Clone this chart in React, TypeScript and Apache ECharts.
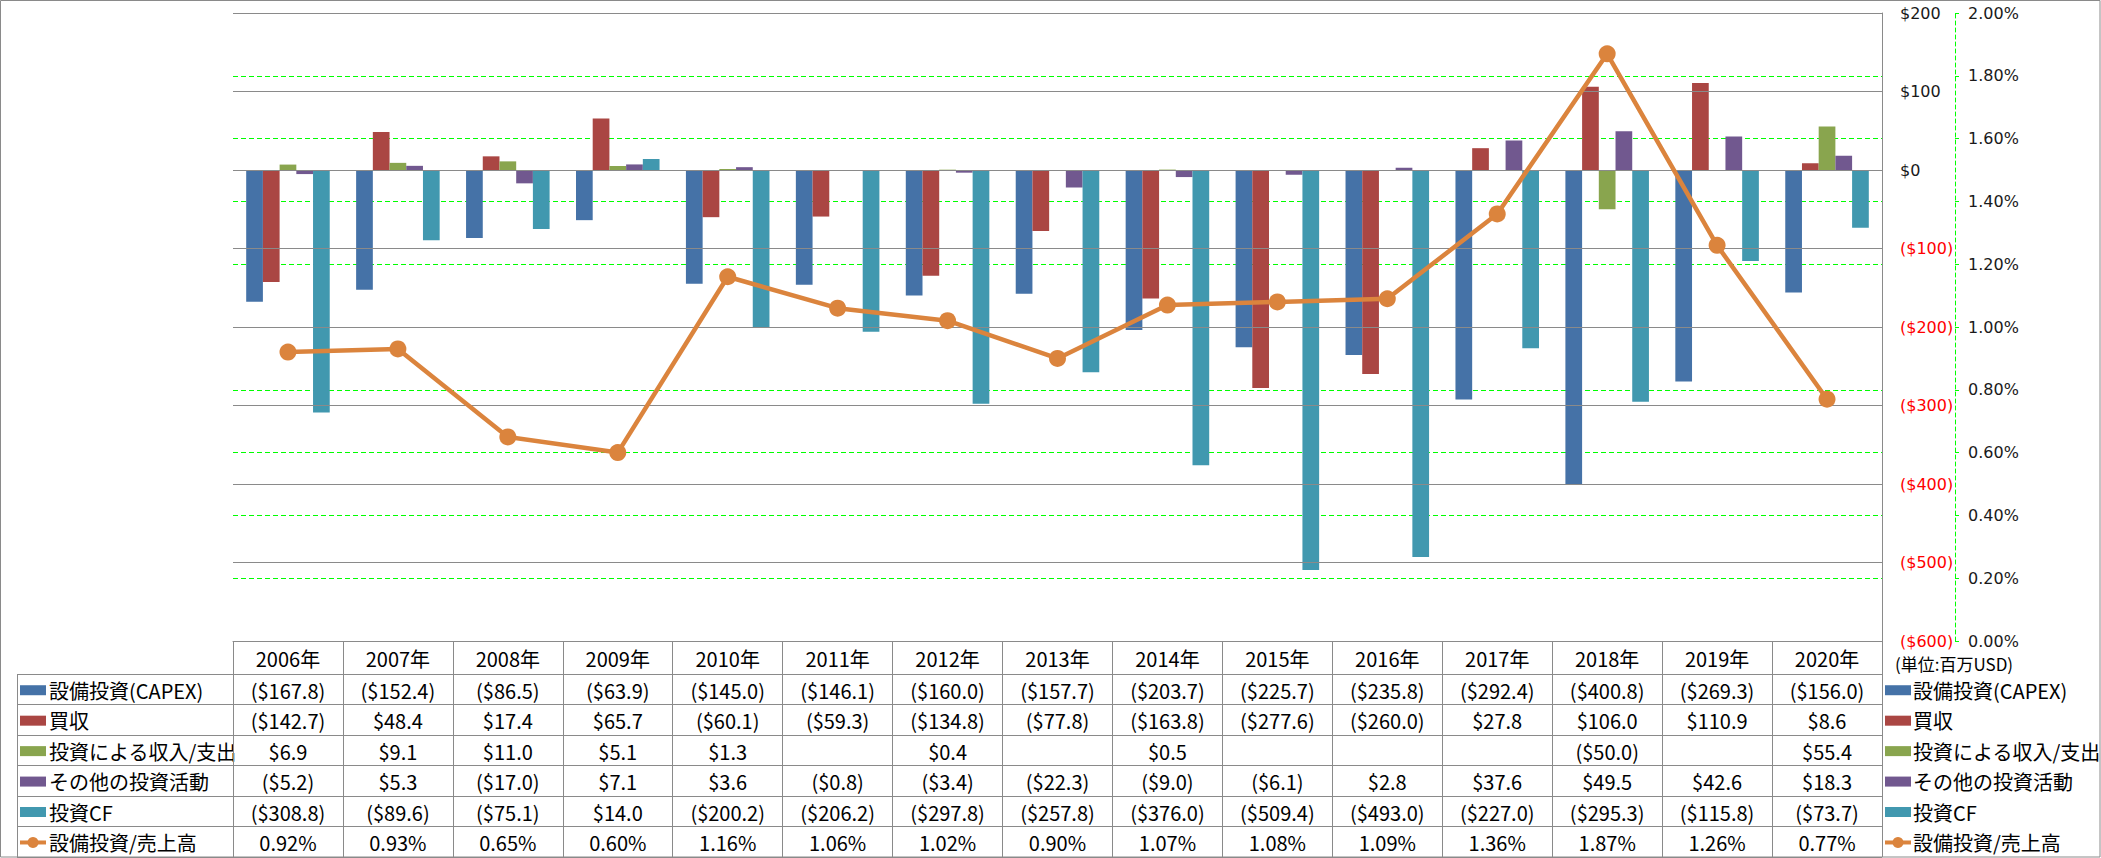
import React, { useEffect, useRef } from "react";
import * as echarts from "echarts";

const years = ["2006年", "2007年", "2008年", "2009年", "2010年", "2011年", "2012年", "2013年", "2014年", "2015年", "2016年", "2017年", "2018年", "2019年", "2020年"];
const capex = [-167.8, -152.4, -86.5, -63.9, -145.0, -146.1, -160.0, -157.7, -203.7, -225.7, -235.8, -292.4, -400.8, -269.3, -156.0];
const acquisitions = [-142.7, 48.4, 17.4, 65.7, -60.1, -59.3, -134.8, -77.8, -163.8, -277.6, -260.0, 27.8, 106.0, 110.9, 8.6];
const investIncome: (number | null)[] = [6.9, 9.1, 11.0, 5.1, 1.3, null, 0.4, null, 0.5, null, null, null, -50.0, null, 55.4];
const otherInvest = [-5.2, 5.3, -17.0, 7.1, 3.6, -0.8, -3.4, -22.3, -9.0, -6.1, 2.8, 37.6, 49.5, 42.6, 18.3];
const investCF = [-308.8, -89.6, -75.1, 14.0, -200.2, -206.2, -297.8, -257.8, -376.0, -509.4, -493.0, -227.0, -295.3, -115.8, -73.7];
const capexRatio = [0.92, 0.93, 0.65, 0.60, 1.16, 1.06, 1.02, 0.90, 1.07, 1.08, 1.09, 1.36, 1.87, 1.26, 0.77];

const seriesNames = ["設備投資(CAPEX)", "買収", "投資による収入/支出", "その他の投資活動", "投資CF", "設備投資/売上高"];
const seriesColors = ["#4572A7", "#AA4643", "#89A54E", "#71588F", "#4198AF", "#DB843D"];
const unitLabel = "(単位:百万USD)";

const W = 2101;
const H = 858;
const PLOT_L = 233;
const PLOT_R = 1882;
const PLOT_T = 13;
const PLOT_B = 641;
const HEADER_B = 674;
const ROW_H = 30.45;
const GRID_GRAY = "#8a8a8a";
const GREEN = "#00ff00";
const TABLE_FONT = '"Liberation Sans Narrow", "Noto Sans CJK JP", sans-serif';
const AXIS_FONT = '"DejaVu Sans", "Noto Sans CJK JP", sans-serif';

function fmtMoney(v: number | null): string {
  if (v === null || v === undefined) return "";
  const a = Math.abs(v).toFixed(1);
  return v < 0 ? `($${a})` : `$${a}`;
}
function fmtAxisMoney(v: number): string {
  return v < 0 ? `($${Math.abs(v)})` : `$${v}`;
}

export default function App() {
  const ref = useRef<HTMLDivElement>(null);
  useEffect(() => {
    if (!ref.current) return;
    const chart = echarts.init(ref.current, null, { renderer: "svg" });
    const rows: (number | null)[][] = [capex, acquisitions, investIncome, otherInvest, investCF];
    const colW = (PLOT_R - PLOT_L) / years.length;
    const elements: any[] = [];
    elements.push({ type: "rect", shape: { x: 0.5, y: 0.5, width: W - 1.5, height: H - 1.5 }, style: { fill: "none", stroke: GRID_GRAY, lineWidth: 1 }, silent: true });
    for (let r = 0; r <= 6; r++) {
      const y = Math.round(HEADER_B + r * ROW_H) + 0.5;
      elements.push({ type: "line", shape: { x1: 17, y1: y, x2: PLOT_R, y2: y }, style: { stroke: GRID_GRAY, lineWidth: 1 }, silent: true });
    }
    elements.push({ type: "line", shape: { x1: 17.5, y1: HEADER_B, x2: 17.5, y2: H - 1 }, style: { stroke: GRID_GRAY, lineWidth: 1 }, silent: true });

    const addKey = (x: number, yc: number, idx: number) => {
      if (idx < 5) {
        elements.push({ type: "rect", shape: { x, y: yc - 5, width: 26, height: 10 }, style: { fill: seriesColors[idx] }, silent: true });
      } else {
        elements.push({ type: "line", shape: { x1: x, y1: yc, x2: x + 26, y2: yc }, style: { stroke: seriesColors[idx], lineWidth: 4 }, silent: true });
        elements.push({ type: "circle", shape: { cx: x + 13, cy: yc, r: 5.5 }, style: { fill: seriesColors[idx] }, silent: true });
      }
    };
    const addText = (text: string, x: number, y: number, align: string, size = 20, family = TABLE_FONT, fill = "#000") => {
      elements.push({
        type: "text",
        x,
        y,
        silent: true,
        style: { text, fill, fontSize: size, fontFamily: family, align, textAlign: align, verticalAlign: "middle", textVerticalAlign: "middle" },
      });
    };

    for (let r = 0; r < 6; r++) {
      const yc = HEADER_B + (r + 0.5) * ROW_H + 1;
      addKey(20, yc, r);
      addText(seriesNames[r], 49, yc, "left");
      addKey(1885, yc, r);
      addText(seriesNames[r], 1913, yc, "left");
      for (let c = 0; c < years.length; c++) {
        const xc = PLOT_L + (c + 0.5) * colW;
        const txt = r < 5 ? fmtMoney(rows[r][c]) : `${capexRatio[c].toFixed(2)}%`;
        if (txt) addText(txt, xc, yc, "center");
      }
    }
    addText(unitLabel, 1895, 663, "left", 17, '"Noto Sans CJK JP", sans-serif', "#000");

    const barSeries = rows.map((d, i) => ({
      name: seriesNames[i],
      type: "bar",
      data: d,
      yAxisIndex: 0,
      barGap: "0%",
      barCategoryGap: "24%",
      itemStyle: { color: seriesColors[i] },
    }));

    chart.setOption({
      animation: false,
      grid: { left: PLOT_L, right: W - PLOT_R, top: PLOT_T, bottom: H - PLOT_B },
      xAxis: {
        type: "category",
        data: years,
        boundaryGap: true,
        position: "bottom",
        axisLine: { show: true, onZero: false, lineStyle: { color: GRID_GRAY, width: 1 } },
        axisTick: { show: true, interval: 0, length: H - PLOT_B - 1, lineStyle: { color: GRID_GRAY, width: 1 } },
        axisLabel: { interval: 0, fontSize: 20, lineHeight: 20, fontFamily: TABLE_FONT, color: "#000", margin: 7 },
        z: 5,
      },
      yAxis: [
        {
          type: "value",
          position: "right",
          min: -600,
          max: 200,
          interval: 100,
          axisLine: { show: true, lineStyle: { color: GRID_GRAY, width: 1 } },
          axisTick: { show: false },
          axisLabel: {
            margin: 18,
            fontSize: 16,
            fontFamily: AXIS_FONT,
            formatter: (v: number) => fmtAxisMoney(v),
            color: (v: any) => (Number(v) < 0 ? "#ff0000" : "#1a1a1a"),
          },
          splitLine: { show: true, lineStyle: { color: GRID_GRAY, width: 1, type: "solid" } },
          z: 3,
        },
        {
          type: "value",
          position: "right",
          offset: 73,
          min: 0,
          max: 2,
          interval: 0.2,
          axisLine: { show: true, lineStyle: { color: GREEN, width: 1, type: [4, 3] } },
          axisTick: { show: true, length: 4, lineStyle: { color: GREEN, width: 1 } },
          axisLabel: {
            margin: 13,
            fontSize: 16,
            fontFamily: AXIS_FONT,
            color: "#1a1a1a",
            formatter: (v: number) => `${v.toFixed(2)}%`,
          },
          splitLine: { show: true, lineStyle: { color: GREEN, width: 1, type: [5, 3] } },
          z: 2,
        },
      ],
      series: [
        ...barSeries,
        {
          name: seriesNames[5],
          type: "line",
          yAxisIndex: 1,
          data: capexRatio,
          symbol: "circle",
          symbolSize: 17,
          lineStyle: { color: seriesColors[5], width: 4.5 },
          itemStyle: { color: seriesColors[5] },
          z: 10,
        },
      ],
      graphic: { elements },
    });
    return () => chart.dispose();
  }, []);
  return <div ref={ref} style={{ position: "fixed", left: 0, top: 0, width: W, height: H, background: "#fff" }} />;
}
